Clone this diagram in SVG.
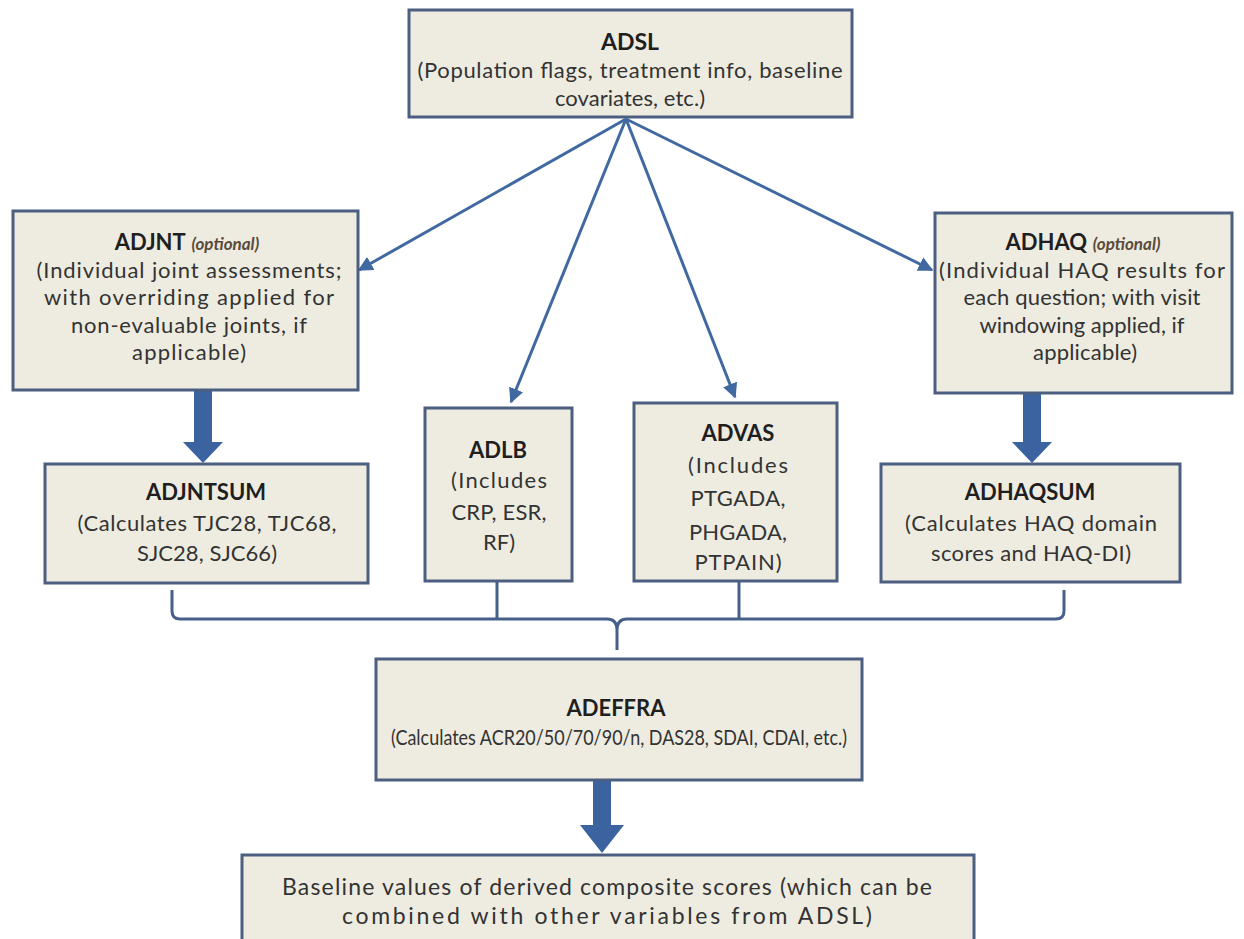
<svg xmlns="http://www.w3.org/2000/svg" width="1244" height="939" viewBox="0 0 1244 939">
<defs>
<style>
.box{fill:#EEECE1;stroke:#4C5F80;stroke-width:3}
.t{font-family:Lato,"Liberation Sans",sans-serif;font-size:22px;fill:#333333;text-anchor:middle}
.b{font-weight:bold;fill:#1f1f1f}
.o{font-weight:bold;font-style:italic;font-size:17px;fill:#5a4a3a}
.ln{fill:none;stroke:#4069A2;stroke-width:3}
.br{fill:none;stroke:#46608A;stroke-width:3}
.fat{fill:#3A63A0}
</style>
<marker id="ah" viewBox="0 0 10 10" refX="9" refY="5" markerWidth="5" markerHeight="5" orient="auto" markerUnits="strokeWidth">
<path d="M0,0 L10,5 L0,10 z" fill="#4069A2"/>
</marker>
</defs>
<rect width="1244" height="939" fill="#ffffff"/>

<g id="connectors">
<line class="ln" x1="626" y1="119" x2="359" y2="270" marker-end="url(#ah)"/>
<line class="ln" x1="626" y1="119" x2="511" y2="402" marker-end="url(#ah)"/>
<line class="ln" x1="626" y1="119" x2="735" y2="397" marker-end="url(#ah)"/>
<line class="ln" x1="626" y1="119" x2="932" y2="270" marker-end="url(#ah)"/>
<polygon class="fat" points="194,391 212,391 212,442 223,442 203,463 183,442 194,442"/>
<polygon class="fat" points="1023,394 1041,394 1041,442 1052,442 1032,463 1012,442 1023,442"/>
<polygon class="fat" points="593,781 611,781 611,825 624,825 602,853 580,825 593,825"/>
<path class="br" d="M172,590 L172,611 Q172,619 180,619 L607,619 Q617,619 617,630 L617,650 M617,630 Q617,619 627,619 L1056,619 Q1064,619 1064,611 L1064,590"/>
<line class="br" x1="497" y1="581" x2="497" y2="619"/>
<line class="br" x1="739" y1="581" x2="739" y2="619"/>
</g>

<g id="ADSL">
<rect class="box" x="409" y="10" width="443" height="107"/>
<text class="t b" x="630" y="50" style="font-size:23px">ADSL</text>
<text class="t" x="630" y="78" textLength="425" lengthAdjust="spacing">(Population flags, treatment info, baseline</text>
<text class="t" x="630" y="106" textLength="150" lengthAdjust="spacing">covariates, etc.)</text>
</g>

<g id="ADJNT">
<rect class="box" x="13" y="211" width="345" height="179"/>
<text class="t" x="187" y="250"><tspan class="b">ADJNT</tspan> <tspan class="o">(optional)</tspan></text>
<text class="t" x="189" y="278" textLength="305" lengthAdjust="spacing">(Individual joint assessments;</text>
<text class="t" x="189" y="305" textLength="290" lengthAdjust="spacing">with overriding applied for</text>
<text class="t" x="189" y="333" textLength="236" lengthAdjust="spacing">non-evaluable joints, if</text>
<text class="t" x="189" y="360" textLength="114" lengthAdjust="spacing">applicable)</text>
</g>

<g id="ADHAQ">
<rect class="box" x="935" y="213" width="297" height="180"/>
<text class="t" x="1083" y="250"><tspan class="b">ADHAQ</tspan> <tspan class="o">(optional)</tspan></text>
<text class="t" x="1082" y="278" textLength="286" lengthAdjust="spacing">(Individual HAQ results for</text>
<text class="t" x="1082" y="305" textLength="237" lengthAdjust="spacing">each question; with visit</text>
<text class="t" x="1082" y="333" textLength="205" lengthAdjust="spacing">windowing applied, if</text>
<text class="t" x="1085" y="360" textLength="104" lengthAdjust="spacing">applicable)</text>
</g>

<g id="ADJNTSUM">
<rect class="box" x="45" y="464" width="323" height="119"/>
<text class="t b" x="206" y="500">ADJNTSUM</text>
<text class="t" x="207" y="531" textLength="259" lengthAdjust="spacing">(Calculates TJC28, TJC68,</text>
<text class="t" x="207" y="561" textLength="140" lengthAdjust="spacing">SJC28, SJC66)</text>
</g>

<g id="ADLB">
<rect class="box" x="425" y="408" width="147" height="173"/>
<text class="t b" x="498" y="458">ADLB</text>
<text class="t" x="499" y="488" textLength="96" lengthAdjust="spacing">(Includes</text>
<text class="t" x="499" y="520" textLength="95" lengthAdjust="spacing">CRP, ESR,</text>
<text class="t" x="499" y="550">RF)</text>
</g>

<g id="ADVAS">
<rect class="box" x="634" y="403" width="203" height="178"/>
<text class="t b" x="738" y="441">ADVAS</text>
<text class="t" x="738" y="473" textLength="100" lengthAdjust="spacing">(Includes</text>
<text class="t" x="738" y="506" textLength="95" lengthAdjust="spacing">PTGADA,</text>
<text class="t" x="738" y="540" textLength="98" lengthAdjust="spacing">PHGADA,</text>
<text class="t" x="738" y="570" textLength="87" lengthAdjust="spacing">PTPAIN)</text>
</g>

<g id="ADHAQSUM">
<rect class="box" x="881" y="464" width="299" height="118"/>
<text class="t b" x="1030" y="500">ADHAQSUM</text>
<text class="t" x="1031" y="531" textLength="252" lengthAdjust="spacing">(Calculates HAQ domain</text>
<text class="t" x="1031" y="561" textLength="200" lengthAdjust="spacing">scores and HAQ-DI)</text>
</g>

<g id="ADEFFRA">
<rect class="box" x="376" y="659" width="486" height="121"/>
<text class="t b" x="616" y="716">ADEFFRA</text>
<text class="t" x="619" y="745" style="font-size:21px" textLength="456" lengthAdjust="spacingAndGlyphs">(Calculates ACR20/50/70/90/n, DAS28, SDAI, CDAI, etc.)</text>
</g>

<g id="BASELINE">
<rect class="box" x="242" y="855" width="732" height="90"/>
<text class="t" x="607" y="895" style="font-size:23px" textLength="650" lengthAdjust="spacing">Baseline values of derived composite scores (which can be</text>
<text class="t" x="607" y="924" style="font-size:23px" textLength="530" lengthAdjust="spacing">combined with other variables from ADSL)</text>
</g>
</svg>
